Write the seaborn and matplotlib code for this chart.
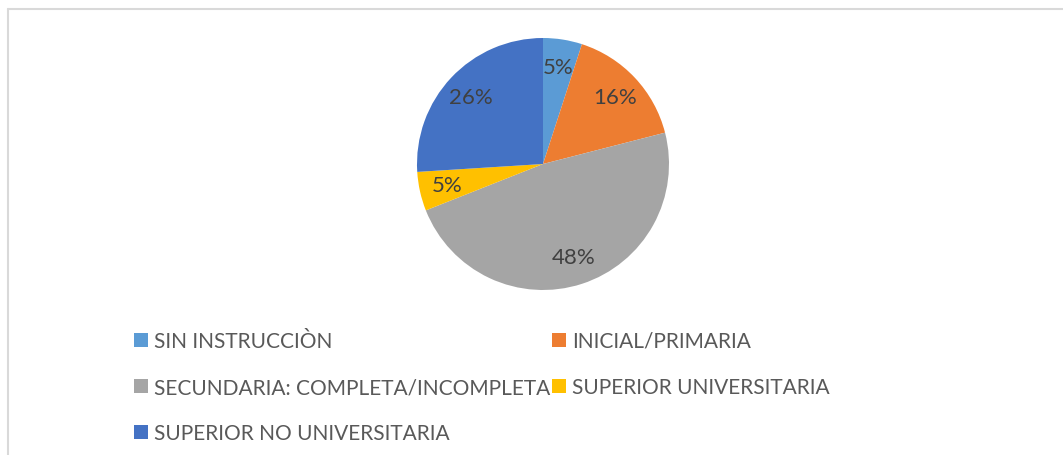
import matplotlib
matplotlib.use("Agg")
import matplotlib.pyplot as plt
import seaborn as sns
from matplotlib.patches import Patch
from matplotlib.lines import Line2D

categorias = ["SIN INSTRUCCIÒN", "INICIAL/PRIMARIA", "SECUNDARIA: COMPLETA/INCOMPLETA",
              "SUPERIOR UNIVERSITARIA", "SUPERIOR NO UNIVERSITARIA"]
porcentajes = [5, 16, 48, 5, 26]
colores = ["#5B9BD5", "#ED7D31", "#A5A5A5", "#FFC000", "#4472C4"]

sns.set_theme(style="white")
plt.rcParams["font.family"] = ["Lato", "DejaVu Sans"]

fig = plt.figure(figsize=(10.63, 4.56), dpi=100)

# borde del gráfico
fig.add_artist(Line2D([8 / 1063, 1], [1 - 10 / 456, 1 - 10 / 456], color="#d9d9d9", lw=1.5))
fig.add_artist(Line2D([8 / 1063, 8 / 1063], [0, 1 - 10 / 456], color="#d9d9d9", lw=1.5))

ax = fig.add_axes([(543 - 126) / 1063, (456 - 291) / 456, 252 / 1063, 252 / 456])
wedges, textos, autotextos = ax.pie(
    porcentajes,
    colors=colores,
    startangle=90,
    counterclock=False,
    autopct="%1.0f%%",
    pctdistance=0.78,
    wedgeprops={"linewidth": 0},
    textprops={"color": "#404040", "fontsize": 16},
)
ax.set_xlim(-1, 1)
ax.set_ylim(-1, 1)
ax.set_aspect("equal")

handles = [Patch(facecolor=c, edgecolor="none") for c in colores]
orden = [0, 2, 4, 1, 3]
fig.legend([handles[i] for i in orden], [categorias[i] for i in orden],
           ncol=2, loc="upper left", bbox_to_anchor=(134 / 1063, 1 - 332 / 456),
           frameon=False, fontsize=15, labelcolor="#595959",
           handlelength=0.65, handleheight=0.65, handletextpad=0.3,
           columnspacing=0.1, labelspacing=1.25, borderpad=0, borderaxespad=0)

fig.savefig("out.png", dpi=100)
